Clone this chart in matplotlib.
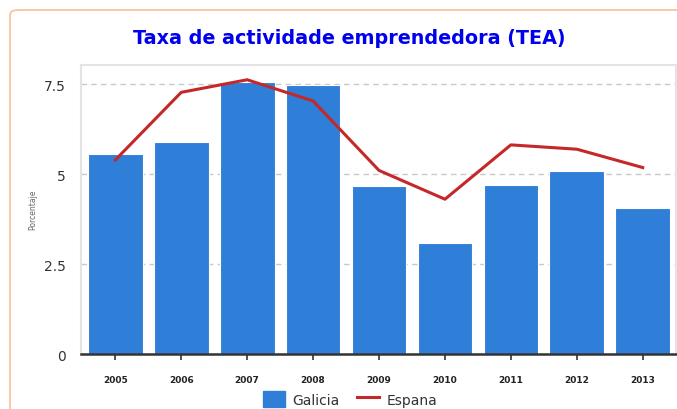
import matplotlib
matplotlib.use("Agg")
import matplotlib.pyplot as plt
from matplotlib.patches import FancyBboxPatch, Patch
from matplotlib.lines import Line2D

years = ["2005", "2006", "2007", "2008", "2009", "2010", "2011", "2012", "2013"]
galicia = [5.56, 5.89, 7.58, 7.48, 4.67, 3.08, 4.70, 5.09, 4.07]
espana = [5.40, 7.28, 7.63, 7.04, 5.11, 4.31, 5.82, 5.70, 5.19]
y_ticks = [0, 2.5, 5, 7.5]
y_tick_labels = ["0", "2.5", "5", "7.5"]

W, H = 677, 410
fig = plt.figure(figsize=(W / 100, H / 100), dpi=100)

# outer rounded frame (cut off at right and bottom)
frame = FancyBboxPatch((10 / W, 1 - 11 / H - 1.2), 1.2, 1.2,
                       boxstyle="round,pad=0,rounding_size=0.012",
                       transform=fig.transFigure, facecolor="none",
                       edgecolor="#f7c4a0", linewidth=1.3, zorder=-1)
fig.patches.append(frame)

left, right, top, bottom = 81, 675.7, 66, 355.3
ax = fig.add_axes([left / W, 1 - bottom / H, (right - left) / W, (bottom - top) / H])

x = range(len(years))
ax.bar(x, galicia, width=0.83, color="#2f7ed8", edgecolor="#ffffff",
       linewidth=0.8, zorder=2)
ax.plot(x, espana, color="#c42828", linewidth=2.2, zorder=3)

ax.set_xlim(-0.52, 8.5)
ax.set_ylim(0, 8.04)
ax.set_xticks(list(x))
ax.set_xticklabels(years, fontsize=6.5, color="#222222", fontweight="bold")
ax.set_yticks(y_ticks)
ax.set_yticklabels(y_tick_labels, fontsize=10, color="#333333")
ax.tick_params(axis="x", length=4, width=1.2, color="#333333", pad=11)
ax.tick_params(axis="y", length=0, pad=11)

ax.grid(axis="y", linestyle=(0, (4, 3)), color="#c8c8c8", linewidth=1, zorder=0)
ax.set_axisbelow(True)

for side in ["left", "top", "right"]:
    ax.spines[side].set_color("#e4e4e4")
    ax.spines[side].set_linewidth(1.5)
ax.spines["bottom"].set_color("#333333")
ax.spines["bottom"].set_linewidth(1.8)
ax.spines["bottom"].set_zorder(4)

fig.text(33 / W, 1 - 210 / H, "Porcentaje", rotation=90, fontsize=5.5,
         color="#666666", ha="center", va="center")

fig.text(349 / W, 1 - 38 / H, "Taxa de actividade emprendedora (TEA)",
         fontsize=13.8, fontweight="bold", color="#0000ee", ha="center", va="center")

handles = [Patch(facecolor="#2f7ed8", edgecolor="#2f7ed8"),
           Line2D([0], [0], color="#c42828", linewidth=2.2)]
fig.legend(handles, ["Galicia", "Espana"], loc="lower center",
           bbox_to_anchor=(350 / W, 0.0), ncol=2, frameon=False,
           fontsize=10, handlelength=1.6, handleheight=1.4, columnspacing=1.2,
           handletextpad=0.55, labelcolor="#333333", borderaxespad=0.05,
           borderpad=0.1)

fig.savefig("out.png", dpi=100)
